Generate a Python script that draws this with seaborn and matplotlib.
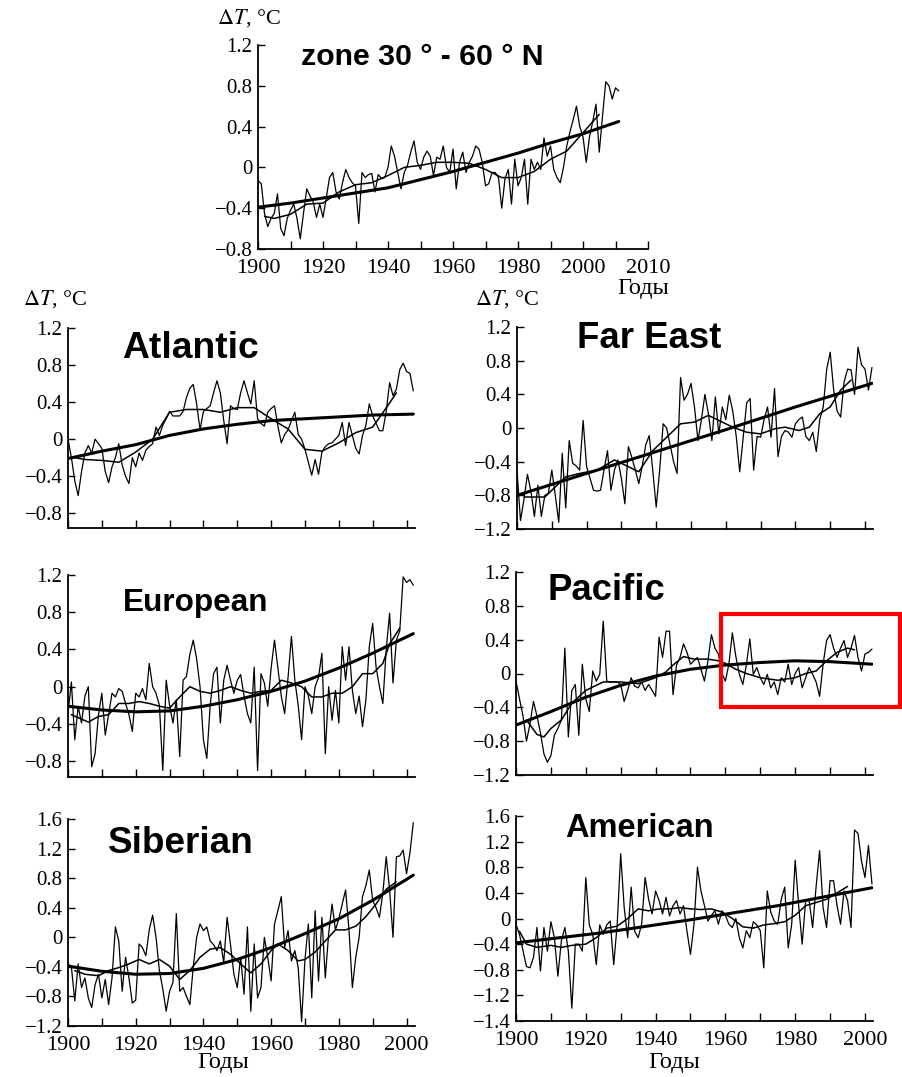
import matplotlib
matplotlib.use("Agg")
import matplotlib.pyplot as plt
import seaborn as sns
import pandas as pd
from matplotlib.patches import Rectangle

# ---------------- DATA ----------------
YEARS_ZONE = list(range(1900, 2012))
YEARS = list(range(1900, 2003))

zone_annual = [
    -0.13, -0.16, -0.45, -0.58, -0.50, -0.45, -0.26, -0.60, -0.67, -0.50,
    -0.42, -0.36, -0.50, -0.70, -0.45, -0.21, -0.28, -0.34, -0.49, -0.36,
    -0.49, -0.30, -0.10, -0.05, -0.24, -0.31, -0.15, -0.02, -0.10, -0.15,
    -0.18, -0.55, -0.05, -0.10, -0.07, -0.06, -0.24, -0.07, -0.11, -0.10,
    0.00, 0.21, 0.11, -0.05, -0.21, -0.05, 0.02, 0.15, 0.26, 0.05,
    -0.02, 0.10, 0.16, 0.11, -0.08, 0.10, 0.08, 0.21, 0.00, -0.05,
    0.18, -0.21, 0.05, 0.15, -0.05, 0.05, 0.11, 0.21, 0.18, 0.05,
    -0.18, -0.16, -0.05, -0.05, -0.10, -0.40, -0.11, -0.02, -0.36, 0.08,
    -0.18, -0.10, 0.08, -0.36, 0.08, -0.02, 0.05, -0.02, 0.29, 0.11,
    0.21, -0.02, -0.10, -0.15, 0.00, 0.21, 0.35, 0.47, 0.60, 0.40,
    0.30, 0.05, 0.30, 0.45, 0.62, 0.15, 0.50, 0.84, 0.80, 0.67,
    0.78, 0.75]
zone_smooth_years = [1902, 1905, 1910, 1915, 1920, 1925, 1930, 1935, 1940, 1945, 1950,
                     1955, 1960, 1965, 1970, 1975, 1980, 1985, 1990, 1995, 2000, 2005]
zone_smooth = [-0.48, -0.50, -0.46, -0.36, -0.35, -0.24, -0.17, -0.15, -0.08, 0.00, 0.02,
               0.05, 0.05, 0.04, -0.02, -0.10, -0.10, -0.04, 0.08, 0.16, 0.34, 0.52]
zone_trend_years = [1900, 1910, 1920, 1930, 1940, 1950, 1960, 1970, 1980, 1990, 2000, 2011]
zone_trend = [-0.39, -0.35, -0.30, -0.25, -0.20, -0.12, -0.04, 0.05, 0.14, 0.24, 0.33, 0.45]

atl_annual = [
    0.00, -0.20, -0.45, -0.61, -0.35, -0.15, -0.07, -0.15, 0.00, -0.05,
    -0.10, -0.35, -0.47, -0.30, -0.20, -0.05, -0.28, -0.40, -0.48, -0.20,
    -0.30, -0.15, -0.23, -0.12, -0.08, -0.05, 0.13, 0.04, 0.15, 0.22,
    0.30, 0.25, 0.25, 0.25, 0.30, 0.45, 0.55, 0.59, 0.38, 0.10,
    0.30, 0.33, 0.36, 0.50, 0.63, 0.50, 0.20, -0.05, 0.36, 0.33,
    0.32, 0.50, 0.63, 0.50, 0.38, 0.63, 0.22, 0.17, 0.14, 0.29,
    0.33, 0.36, 0.14, -0.04, 0.05, 0.10, 0.20, 0.29, 0.05, 0.00,
    -0.11, -0.25, -0.39, -0.22, -0.38, -0.14, -0.08, -0.05, -0.04, 0.00,
    0.04, 0.18, -0.07, 0.18, 0.04, -0.10, -0.16, 0.04, 0.15, 0.38,
    0.25, 0.17, 0.09, 0.09, 0.30, 0.61, 0.47, 0.54, 0.75, 0.82,
    0.73, 0.71, 0.52]
atl_smooth_years = [1902, 1905, 1910, 1915, 1920, 1925, 1930, 1935, 1940, 1945, 1950,
                    1955, 1960, 1965, 1970, 1975, 1980, 1985, 1990, 1995, 1997]
atl_smooth = [-0.20, -0.22, -0.23, -0.25, -0.14, 0.00, 0.29, 0.32, 0.32, 0.29, 0.34,
              0.34, 0.22, 0.11, -0.11, -0.13, -0.04, 0.07, 0.13, 0.39, 0.50]
atl_trend_years = [1900, 1910, 1920, 1930, 1940, 1950, 1960, 1970, 1980, 1990, 2002]
atl_trend = [-0.21, -0.13, -0.06, 0.04, 0.11, 0.16, 0.20, 0.22, 0.24, 0.26, 0.27]

fe_annual = [
    -0.50, -1.10, -0.85, -0.55, -0.75, -1.05, -0.68, -1.05, -0.80, -0.78,
    -0.50, -0.80, -1.12, -0.30, -0.95, -0.15, -0.42, -0.45, -0.50, 0.09,
    -0.46, -0.60, -0.74, -0.75, -0.74, -0.50, -0.27, -0.74, -0.50, -0.38,
    -0.60, -0.90, -0.22, -0.35, -0.50, -0.66, -0.45, -0.20, -0.09, -0.50,
    -0.94, -0.50, 0.05, 0.00, -0.20, -0.40, -0.54, 0.60, 0.33, 0.40,
    0.53, 0.25, -0.15, 0.10, 0.40, 0.17, -0.15, 0.37, -0.07, 0.25,
    0.10, 0.39, 0.20, -0.10, -0.52, -0.11, 0.30, 0.35, -0.50, -0.10,
    -0.11, 0.10, 0.25, -0.11, 0.47, -0.34, -0.10, -0.03, -0.05, -0.11,
    0.05, 0.10, 0.13, -0.10, -0.15, -0.05, -0.28, 0.10, 0.25, 0.70,
    0.90, 0.45, 0.20, 0.13, 0.55, 0.70, 0.69, 0.40, 0.96, 0.75,
    0.70, 0.45, 0.72]
fe_smooth_years = [1902, 1908, 1910, 1914, 1918, 1923, 1928, 1932, 1935, 1939, 1943, 1947,
                   1951, 1955, 1958, 1962, 1966, 1970, 1974, 1977, 1981, 1984, 1987, 1990,
                   1993, 1996]
fe_smooth = [-0.82, -0.82, -0.74, -0.58, -0.54, -0.50, -0.38, -0.46, -0.52, -0.27, -0.11, 0.05,
             0.07, 0.15, 0.09, 0.01, -0.05, -0.07, -0.01, 0.01, -0.03, 0.01, 0.17, 0.25,
             0.45, 0.57]
fe_trend_years = [1900, 1920, 1940, 1960, 1980, 2002]
fe_trend = [-0.80, -0.54, -0.28, -0.02, 0.25, 0.53]

eu_annual = [
    -0.29, 0.05, -0.57, -0.21, -0.39, -0.10, 0.00, -0.86, -0.72, -0.30,
    -0.07, -0.52, -0.30, -0.07, -0.11, -0.02, -0.05, -0.18, -0.30, -0.48,
    -0.07, -0.11, -0.02, -0.14, 0.25, 0.00, -0.07, -0.20, -0.90, 0.07,
    -0.20, -0.39, -0.14, -0.75, 0.07, 0.11, 0.35, 0.50, 0.30, 0.00,
    -0.57, -0.77, -0.20, 0.14, 0.21, -0.39, 0.07, 0.23, 0.07, -0.07,
    0.07, 0.13, -0.10, -0.29, -0.39, 0.21, -0.90, 0.14, 0.04, -0.21,
    0.20, 0.50, 0.20, -0.10, -0.29, 0.10, 0.54, 0.07, -0.20, -0.57,
    0.00, -0.10, -0.29, 0.00, 0.10, 0.36, -0.72, 0.00, -0.36, -0.04,
    -0.39, 0.43, 0.07, 0.43, -0.04, -0.29, -0.10, -0.43, -0.14, 0.43,
    0.68, 0.21, 0.00, -0.18, 0.40, 0.79, 0.04, 0.50, 0.60, 1.18,
    1.12, 1.15, 1.09]
eu_smooth_years = [1901, 1906, 1909, 1912, 1915, 1918, 1921, 1924, 1927, 1930, 1933, 1936,
                   1939, 1942, 1945, 1948, 1951, 1954, 1957, 1960, 1963, 1966, 1969, 1972,
                   1975, 1978, 1981, 1984, 1987, 1990, 1993, 1995, 1998]
eu_smooth = [-0.30, -0.38, -0.32, -0.30, -0.18, -0.18, -0.16, -0.18, -0.21, -0.23, -0.11, 0.00,
             -0.05, -0.07, -0.04, 0.00, -0.04, -0.07, -0.05, -0.04, 0.07, 0.04, 0.00, -0.11,
             -0.11, -0.07, -0.07, 0.00, 0.14, 0.14, 0.25, 0.46, 0.63]
eu_trend_years = [1900, 1910, 1920, 1930, 1940, 1950, 1960, 1970, 1980, 1990, 2002]
eu_trend = [-0.21, -0.25, -0.27, -0.26, -0.21, -0.14, -0.05, 0.06, 0.20, 0.36, 0.57]

pac_annual = [
    -0.09, -0.30, -0.50, -0.80, -0.60, -0.33, -0.50, -0.70, -0.95, -1.05,
    -0.97, -0.73, -0.65, -0.55, 0.30, -0.75, -0.20, -0.13, -0.73, 0.11,
    -0.30, -0.45, 0.03, -0.09, -0.01, 0.62, -0.09, -0.10, -0.10, -0.10,
    -0.13, -0.33, -0.20, -0.05, -0.15, -0.17, -0.10, -0.20, -0.13, -0.20,
    -0.27, 0.43, 0.19, 0.50, 0.50, -0.25, 0.10, 0.19, 0.35, 0.25,
    0.11, 0.15, 0.19, 0.05, -0.09, 0.15, 0.46, 0.30, 0.23, 0.00,
    -0.09, 0.11, 0.48, 0.20, -0.01, -0.13, 0.10, 0.41, -0.01, 0.07,
    -0.05, -0.13, -0.01, -0.17, -0.10, -0.25, -0.05, -0.10, 0.11, -0.13,
    0.00, 0.07, -0.17, -0.05, 0.07, -0.01, -0.10, -0.27, 0.11, 0.39,
    0.46, 0.30, 0.19, 0.30, 0.39, 0.19, 0.30, 0.45, 0.19, 0.03,
    0.23, 0.25, 0.29]
pac_smooth_years = [1903, 1906, 1908, 1910, 1913, 1916, 1920, 1925, 1930, 1935, 1940, 1943,
                    1945, 1948, 1951, 1955, 1958, 1960, 1963, 1966, 1970, 1975, 1980, 1983,
                    1986, 1989, 1992, 1995, 1997]
pac_smooth = [-0.55, -0.72, -0.75, -0.65, -0.55, -0.35, -0.20, -0.10, -0.10, -0.12, -0.05, 0.02,
              0.10, 0.20, 0.17, 0.17, 0.15, 0.12, 0.05, 0.00, -0.05, -0.08, -0.05, 0.00,
              0.03, 0.15, 0.25, 0.30, 0.28]
pac_trend_years = [1900, 1910, 1920, 1930, 1940, 1950, 1960, 1970, 1980, 1990, 2002]
pac_trend = [-0.61, -0.45, -0.28, -0.14, -0.03, 0.05, 0.10, 0.13, 0.15, 0.14, 0.11]

sib_annual = [
    -0.36, -0.40, -0.86, -0.36, -0.68, -0.55, -0.82, -0.95, -0.64, -0.50,
    -0.82, -0.57, -0.91, -0.55, 0.14, -0.05, -0.73, -0.27, -0.55, -0.89,
    -0.85, -0.09, -0.14, -0.25, 0.10, 0.30, 0.00, -0.45, -0.70, -1.00,
    -0.73, -0.61, 0.32, -0.73, -0.68, -0.80, -0.91, -0.40, 0.00, 0.18,
    0.09, 0.14, -0.05, -0.10, -0.18, -0.05, -0.34, 0.27, -0.10, -0.50,
    -0.68, -0.27, -0.77, 0.14, -1.00, -0.09, -0.82, -0.68, 0.00, -0.27,
    -0.59, 0.18, 0.36, 0.55, -0.14, 0.09, -0.32, -0.18, -0.41, -1.14,
    -0.30, 0.18, -0.82, 0.36, -0.59, 0.27, -0.55, 0.05, 0.45, 0.10,
    0.25, 0.45, 0.64, 0.10, -0.68, -0.27, 0.00, 0.55, 0.70, 0.91,
    0.50, 0.40, 0.27, 0.60, 1.09, 0.64, 0.00, 1.09, 1.10, 1.18,
    0.86, 1.14, 1.55]
sib_smooth_years = [1902, 1905, 1909, 1912, 1915, 1918, 1921, 1924, 1927, 1930, 1933, 1936,
                    1939, 1942, 1945, 1948, 1951, 1954, 1957, 1960, 1962, 1965, 1968, 1970,
                    1973, 1976, 1979, 1982, 1985, 1988, 1991, 1994, 1997]
sib_smooth = [-0.45, -0.50, -0.52, -0.45, -0.41, -0.36, -0.30, -0.36, -0.30, -0.39, -0.57, -0.45,
              -0.27, -0.16, -0.14, -0.23, -0.36, -0.48, -0.36, -0.18, -0.09, -0.18, -0.32, -0.30,
              -0.20, -0.05, 0.10, 0.10, 0.15, 0.28, 0.45, 0.65, 0.75]
sib_trend_years = [1900, 1910, 1920, 1930, 1940, 1950, 1960, 1970, 1980, 1990, 2002]
sib_trend = [-0.39, -0.46, -0.50, -0.49, -0.42, -0.30, -0.14, 0.05, 0.25, 0.50, 0.84]

am_annual = [
    -0.09, -0.25, -0.50, -0.75, -0.77, -0.61, -0.14, -0.82, -0.14, -0.51,
    -0.05, -0.30, -0.90, -0.35, -0.14, -0.51, -1.40, -0.40, -0.40, -0.51,
    0.64, -0.10, -0.25, -0.72, -0.10, -0.25, -0.10, -0.04, -0.72, -0.09,
    1.01, 0.17, -0.30, 0.49, -0.20, -0.30, -0.09, 0.64, 0.30, 0.07,
    0.43, 0.28, 0.07, 0.33, 0.04, 0.20, 0.28, 0.07, 0.20, -0.20,
    -0.56, -0.09, 0.80, 0.43, 0.20, -0.04, 0.05, 0.12, -0.09, 0.12,
    0.05, -0.09, -0.14, 0.00, -0.30, -0.46, -0.19, -0.30, -0.05, -0.10,
    -0.19, -0.77, 0.43, 0.10, -0.04, -0.09, 0.30, 0.49, -0.46, -0.09,
    0.91, 0.20, -0.40, 0.28, 0.28, -0.14, 0.50, 1.06, 0.17, -0.14,
    0.59, 0.59, 0.20, -0.09, 0.43, 0.28, -0.14, 1.38, 1.33, 0.90,
    0.64, 1.14, 0.54]
am_smooth_years = [1901, 1903, 1906, 1910, 1913, 1916, 1920, 1923, 1926, 1929, 1932, 1935,
                   1938, 1941, 1944, 1947, 1950, 1953, 1956, 1959, 1962, 1965, 1968, 1971,
                   1974, 1977, 1980, 1983, 1986, 1989, 1992, 1995]
am_smooth = [-0.20, -0.40, -0.45, -0.42, -0.45, -0.42, -0.40, -0.30, -0.15, -0.12, 0.00, 0.15,
             0.12, 0.15, 0.15, 0.17, 0.15, 0.14, 0.15, 0.10, 0.00, -0.13, -0.15, -0.10,
             -0.08, -0.05, 0.05, 0.20, 0.25, 0.30, 0.40, 0.50]
am_trend_years = [1900, 1925, 1950, 1975, 2002]
am_trend = [-0.38, -0.22, -0.02, 0.20, 0.48]

# tick labels
zone_xticks = [1900, 1910, 1920, 1930, 1940, 1950, 1960, 1970, 1980, 1990, 2000, 2010, 2020]
zone_xlabels = ["1900", "", "1920", "", "1940", "", "1960", "", "1980", "", "2000", "", "2010"]
dec_xticks = [1900, 1910, 1920, 1930, 1940, 1950, 1960, 1970, 1980, 1990, 2000]
dec_xlabels = ["1900", "", "1920", "", "1940", "", "1960", "", "1980", "", "2000"]
yt_08_12 = [-0.8, -0.4, 0, 0.4, 0.8, 1.2]
yl_08_12 = ["\u22120.8", "\u22120.4", "0", "0.4", "0.8", "1.2"]
yt_12_12 = [-1.2, -0.8, -0.4, 0, 0.4, 0.8, 1.2]
yl_12_12 = ["\u22121.2", "\u22120.8", "\u22120.4", "0", "0.4", "0.8", "1.2"]
yt_sib = [-1.2, -0.8, -0.4, 0, 0.4, 0.8, 1.2, 1.6]
yl_sib = ["\u22121.2", "\u22120.8", "\u22120.4", "0", "0.4", "0.8", "1.2", "1.6"]
yt_am = [-1.6, -1.2, -0.8, -0.4, 0, 0.4, 0.8, 1.2, 1.6]
yl_am = ["\u22121.4", "\u22121.2", "\u22120.8", "\u22120.4", "0", "0.4", "0.8", "1.2", "1.6"]

# ---------------- FIGURE ----------------
sns.set_style("ticks")
plt.rcParams["font.family"] = ["Liberation Serif", "DejaVu Serif"]
plt.rcParams["mathtext.fontset"] = "stix"
plt.rcParams["text.color"] = "black"
plt.rcParams["axes.labelcolor"] = "black"
plt.rcParams["xtick.color"] = "black"
plt.rcParams["ytick.color"] = "black"

W, H = 903, 1077
fig = plt.figure(figsize=(W / 100, H / 100), dpi=100)
fig.patch.set_facecolor("white")


def px_axes(x0, y0, x1, y1):
    return fig.add_axes([x0 / W, 1 - y1 / H, (x1 - x0) / W, (y1 - y0) / H])


def fig_text(x, y, s, **kw):
    fig.text(x / W, 1 - y / H, s, ha="left", va="baseline", color="black", **kw)


panels = [
    dict(box=(258, 45, 648, 249), xlim=(1900, 2020), ylim=(-0.8, 1.2),
         yt=yt_08_12, yl=yl_08_12, xt=zone_xticks, xl=zone_xlabels,
         yrs=YEARS_ZONE, ann=zone_annual, sy=zone_smooth_years, sm=zone_smooth,
         ty=zone_trend_years, tr=zone_trend,
         title="zone 30 \u00b0 - 60 \u00b0 N", tpos=(301, 65), tsize=21.8),
    dict(box=(68, 328, 415, 528), xlim=(1900, 2002.5), ylim=(-0.96, 1.2),
         yt=yt_08_12, yl=yl_08_12, xt=dec_xticks, xl=None,
         yrs=YEARS, ann=atl_annual, sy=atl_smooth_years, sm=atl_smooth,
         ty=atl_trend_years, tr=atl_trend,
         title="Atlantic", tpos=(122, 358), tsize=26.8),
    dict(box=(517, 327, 873, 529), xlim=(1900, 2002.3), ylim=(-1.2, 1.2),
         yt=yt_12_12, yl=yl_12_12, xt=dec_xticks, xl=None,
         yrs=YEARS, ann=fe_annual, sy=fe_smooth_years, sm=fe_smooth,
         ty=fe_trend_years, tr=fe_trend,
         title="Far East", tpos=(577, 348), tsize=26.3),
    dict(box=(68, 575, 415, 777), xlim=(1900, 2002.5), ylim=(-0.97, 1.2),
         yt=yt_08_12, yl=yl_08_12, xt=dec_xticks, xl=None,
         yrs=YEARS, ann=eu_annual, sy=eu_smooth_years, sm=eu_smooth,
         ty=eu_trend_years, tr=eu_trend,
         title="European", tpos=(123, 611), tsize=22.7),
    dict(box=(516, 572, 873, 775), xlim=(1900, 2002.3), ylim=(-1.2, 1.2),
         yt=yt_12_12, yl=yl_12_12, xt=dec_xticks, xl=None,
         yrs=YEARS, ann=pac_annual, sy=pac_smooth_years, sm=pac_smooth,
         ty=pac_trend_years, tr=pac_trend,
         title="Pacific", tpos=(547, 600), tsize=26.3),
    dict(box=(68, 819, 415, 1026), xlim=(1900, 2002.5), ylim=(-1.2, 1.6),
         yt=yt_sib, yl=yl_sib, xt=dec_xticks, xl=dec_xlabels,
         yrs=YEARS, ann=sib_annual, sy=sib_smooth_years, sm=sib_smooth,
         ty=sib_trend_years, tr=sib_trend,
         title="Siberian", tpos=(108, 853), tsize=26.6),
    dict(box=(516, 816, 873, 1021), xlim=(1900, 2002.3), ylim=(-1.6, 1.6),
         yt=yt_am, yl=yl_am, xt=dec_xticks, xl=dec_xlabels,
         yrs=YEARS, ann=am_annual, sy=am_smooth_years, sm=am_smooth,
         ty=am_trend_years, tr=am_trend,
         title="American", tpos=(565, 837), tsize=23.5),
]

axes = []
for p in panels:
    ax = px_axes(*p["box"])
    axes.append(ax)
    d_ann = pd.DataFrame({"year": p["yrs"], "dT": p["ann"]})
    d_sm = pd.DataFrame({"year": p["sy"], "dT": p["sm"]})
    d_tr = pd.DataFrame({"year": p["ty"], "dT": p["tr"]})
    sns.lineplot(data=d_ann, x="year", y="dT", ax=ax, color="black", lw=0.9,
                 estimator=None, sort=False)
    sns.lineplot(data=d_sm, x="year", y="dT", ax=ax, color="black", lw=1.1,
                 estimator=None, sort=False)
    sns.lineplot(data=d_tr, x="year", y="dT", ax=ax, color="black", lw=2.2,
                 estimator=None, sort=False)
    ax.set_xlim(*p["xlim"])
    ax.set_ylim(*p["ylim"])
    ax.set_xlabel("")
    ax.set_ylabel("")
    ax.set_facecolor("white")
    for s in ("top", "right"):
        ax.spines[s].set_visible(False)
    for s in ("left", "bottom"):
        ax.spines[s].set_linewidth(1.3)
        ax.spines[s].set_color("black")
    ax.set_yticks(p["yt"])
    ax.set_yticklabels(p["yl"])
    ax.set_xticks(p["xt"])
    if p["xl"] is None:
        ax.set_xticklabels([""] * len(p["xt"]))
    else:
        ax.set_xticklabels(p["xl"])
    ax.tick_params(axis="y", direction="in", length=5, width=1, pad=4,
                   labelsize=15, colors="black")
    ax.tick_params(axis="x", direction="in", length=6, width=1, pad=7,
                   labelsize=16, colors="black")
    fig_text(p["tpos"][0], p["tpos"][1], p["title"], fontsize=p["tsize"],
             fontweight="bold", family=["Liberation Sans", "DejaVu Sans"])

# red highlight box on the Pacific panel
axes[4].add_patch(Rectangle((1958.7, -0.40), 2010.0 - 1958.7, 0.70 + 0.40,
                            fill=False, edgecolor="#ff0000", lw=3.0,
                            clip_on=False, zorder=5))

# axis captions
dT_label = r"$\Delta T$, °C"
fig_text(217, 24, dT_label, fontsize=16)
fig_text(23, 305, dT_label, fontsize=16)
fig_text(475, 305, dT_label, fontsize=16)
fig_text(617, 294, "Годы", fontsize=17.5)
fig_text(197, 1068, "Годы", fontsize=17.5)
fig_text(648, 1068, "Годы", fontsize=17.5)

fig.savefig("out.png", dpi=100, facecolor="white")
